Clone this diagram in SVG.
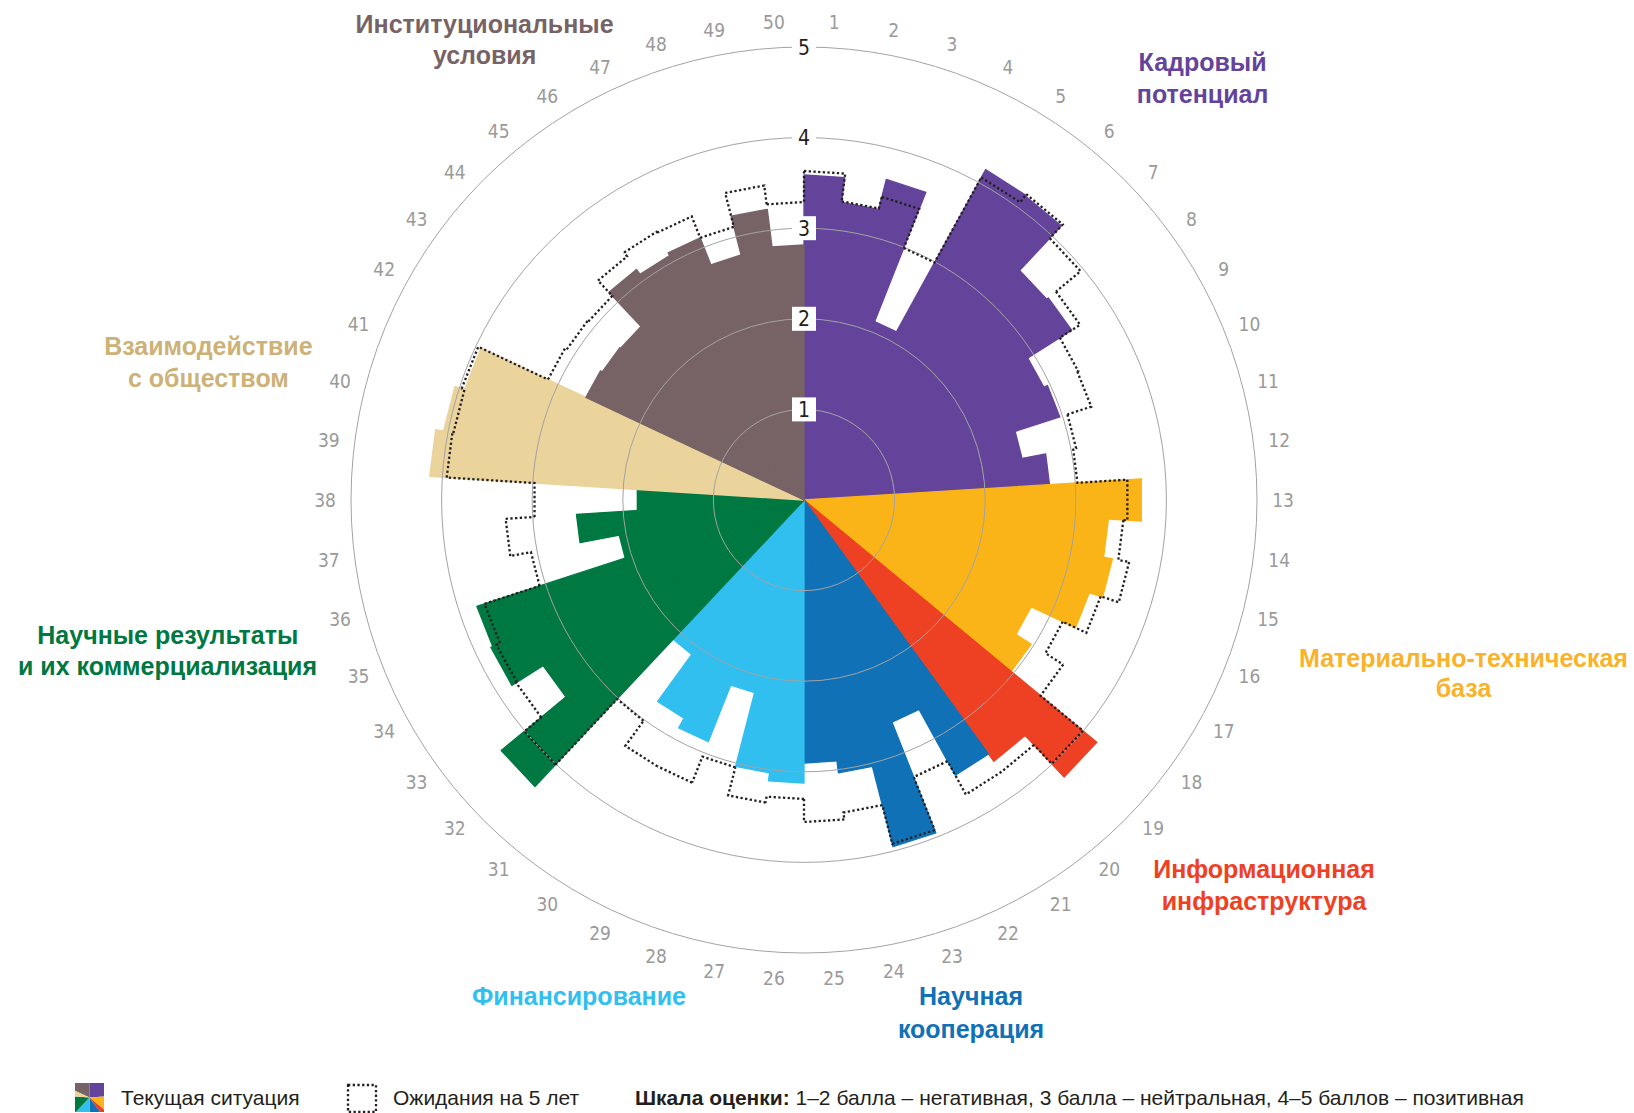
<svg xmlns="http://www.w3.org/2000/svg" width="1634" height="1113" viewBox="0 0 1634 1113">
<style>
.t{font-family:"Liberation Sans",Arial,sans-serif;font-weight:bold;font-size:25px;text-anchor:middle}
.n{font-family:"Liberation Sans Narrow","DejaVu Sans Condensed","Liberation Sans",sans-serif;font-size:19px;fill:#9a9a9a;text-anchor:middle}
.rl{font-family:"Liberation Sans Narrow","DejaVu Sans Condensed","Liberation Sans",sans-serif;font-size:21px;fill:#231f20;text-anchor:middle}
.ring{fill:none;stroke:#a3a3a3;stroke-width:1}
.exp path{fill:none;stroke:#231f20;stroke-width:2.3;stroke-dasharray:2.3 2.4}
.lg{font-family:"Liberation Sans",Arial,sans-serif;font-size:21px;fill:#231f20}
.bar path{stroke-width:1.3;stroke-linejoin:round}
</style>
<defs>
<clipPath id="ic"><rect x="75" y="1083" width="29" height="29"/></clipPath>
</defs>

<g id="bars" class="bar" transform="translate(804,500)">
<g id="kadry" fill="#64449b" stroke="#64449b">
<path transform="rotate(0)" d="M0 0V-325L40.73 -322.44Z"/>
<path transform="rotate(7.2)" d="M0 0V-300L37.6 -297.63Z"/>
<path transform="rotate(14.4)" d="M0 0V-331L41.49 -328.39Z"/>
<path transform="rotate(21.6)" d="M0 0V-192L24.06 -190.49Z"/>
<path transform="rotate(28.8)" d="M0 0V-377L47.25 -374.03Z"/>
<path transform="rotate(36)" d="M0 0V-376L47.13 -373.04Z"/>
<path transform="rotate(43.2)" d="M0 0V-315L39.48 -312.52Z"/>
<path transform="rotate(50.4)" d="M0 0V-317L39.73 -314.5Z"/>
<path transform="rotate(57.6)" d="M0 0V-265L33.21 -262.91Z"/>
<path transform="rotate(64.8)" d="M0 0V-269L33.71 -266.88Z"/>
<path transform="rotate(72)" d="M0 0V-222L27.82 -220.25Z"/>
<path transform="rotate(79.2)" d="M0 0V-246L30.83 -244.06Z"/>
</g>
<g id="baza" fill="#fbb417" stroke="#fbb417">
<path transform="rotate(86.4)" d="M0 0V-338L42.36 -335.33Z"/>
<path transform="rotate(93.6)" d="M0 0V-305L38.23 -302.6Z"/>
<path transform="rotate(100.8)" d="M0 0V-314L39.35 -311.52Z"/>
<path transform="rotate(108)" d="M0 0V-300L37.6 -297.63Z"/>
<path transform="rotate(115.2)" d="M0 0V-251L31.46 -249.02Z"/>
<path transform="rotate(122.4)" d="M0 0V-269L33.71 -266.88Z"/>
</g>
<g id="infra" fill="#ee4123" stroke="#ee4123">
<path transform="rotate(129.6)" d="M0 0V-380L47.63 -377Z"/>
<path transform="rotate(136.8)" d="M0 0V-323L40.48 -320.45Z"/>
</g>
<g id="koop" fill="#1071b6" stroke="#1071b6">
<path transform="rotate(144)" d="M0 0V-314L39.35 -311.52Z"/>
<path transform="rotate(151.2)" d="M0 0V-239L29.95 -237.12Z"/>
<path transform="rotate(158.4)" d="M0 0V-358L44.87 -355.18Z"/>
<path transform="rotate(165.6)" d="M0 0V-275L34.47 -272.83Z"/>
<path transform="rotate(172.8)" d="M0 0V-263L32.96 -260.93Z"/>
</g>
<g id="fin" fill="#31bfef" stroke="#31bfef">
<path transform="rotate(180)" d="M0 0V-283L35.47 -280.77Z"/>
<path transform="rotate(187.2)" d="M0 0V-275L34.47 -272.83Z"/>
<path transform="rotate(194.4)" d="M0 0V-199L24.94 -197.43Z"/>
<path transform="rotate(201.6)" d="M0 0V-260L32.59 -257.95Z"/>
<path transform="rotate(208.8)" d="M0 0V-249L31.21 -247.04Z"/>
<path transform="rotate(216)" d="M0 0V-191L23.94 -189.49Z"/>
</g>
<g id="nauka" fill="#007841" stroke="#007841">
<path transform="rotate(223.2)" d="M0 0V-393L49.26 -389.9Z"/>
<path transform="rotate(230.4)" d="M0 0V-309L38.73 -306.56Z"/>
<path transform="rotate(237.6)" d="M0 0V-346L43.37 -343.27Z"/>
<path transform="rotate(244.8)" d="M0 0V-344L43.11 -341.29Z"/>
<path transform="rotate(252)" d="M0 0V-188L23.56 -186.52Z"/>
<path transform="rotate(259.2)" d="M0 0V-228L28.58 -226.2Z"/>
<path transform="rotate(266.4)" d="M0 0V-167L20.93 -165.68Z"/>
</g>
<g id="obsh" fill="#ebd39c" stroke="#ebd39c">
<path transform="rotate(273.6)" d="M0 0V-375L47 -372.04Z"/>
<path transform="rotate(280.8)" d="M0 0V-367L46 -364.11Z"/>
<path transform="rotate(288)" d="M0 0V-357L44.74 -354.19Z"/>
</g>
<g id="inst" fill="#776365" stroke="#776365">
<path transform="rotate(295.2)" d="M0 0V-241L30.21 -239.1Z"/>
<path transform="rotate(302.4)" d="M0 0V-239L29.95 -237.12Z"/>
<path transform="rotate(309.6)" d="M0 0V-238L29.83 -236.12Z"/>
<path transform="rotate(316.8)" d="M0 0V-285L35.72 -282.75Z"/>
<path transform="rotate(324)" d="M0 0V-279L34.97 -276.8Z"/>
<path transform="rotate(331.2)" d="M0 0V-282L35.34 -279.78Z"/>
<path transform="rotate(338.4)" d="M0 0V-253L31.71 -251Z"/>
<path transform="rotate(345.6)" d="M0 0V-293L36.72 -290.69Z"/>
<path transform="rotate(352.8)" d="M0 0V-255L31.96 -252.99Z"/>
</g>
</g>

<g id="rings" class="ring">
<circle cx="804" cy="500" r="90.6"/>
<circle cx="804" cy="500" r="181.2"/>
<circle cx="804" cy="500" r="271.8"/>
<circle cx="804" cy="500" r="362.4"/>
<circle cx="804" cy="500" r="453"/>
</g>

<g id="expected" class="exp" transform="translate(804,500)">
<path transform="rotate(0)" d="M0 -329L41.23 -326.41L37.73 -298.63"/>
<path transform="rotate(7.2)" d="M0 -301L37.73 -298.63L39.23 -310.53"/>
<path transform="rotate(14.4)" d="M0 -313L39.23 -310.53L33.97 -268.86"/>
<path transform="rotate(21.6)" d="M0 -271L33.97 -268.86L46.12 -365.1"/>
<path transform="rotate(28.8)" d="M0 -368L46.12 -365.1L47.38 -375.02"/>
<path transform="rotate(36)" d="M0 -378L47.38 -375.02L44.99 -356.17"/>
<path transform="rotate(43.2)" d="M0 -359L44.99 -356.17L40.98 -324.42"/>
<path transform="rotate(50.4)" d="M0 -327L40.98 -324.42L37.98 -300.61"/>
<path transform="rotate(57.6)" d="M0 -303L37.98 -300.61L37.85 -299.62"/>
<path transform="rotate(64.8)" d="M0 -302L37.85 -299.62L34.72 -274.82"/>
<path transform="rotate(72)" d="M0 -277L34.72 -274.82L34.34 -271.84"/>
<path transform="rotate(79.2)" d="M0 -274L34.34 -271.84L40.61 -321.45"/>
<path transform="rotate(86.4)" d="M0 -324L40.61 -321.45L40.11 -317.48"/>
<path transform="rotate(93.6)" d="M0 -320L40.11 -317.48L41.49 -328.39"/>
<path transform="rotate(100.8)" d="M0 -331L41.49 -328.39L39.1 -309.54"/>
<path transform="rotate(108)" d="M0 -312L39.1 -309.54L35.85 -283.74"/>
<path transform="rotate(115.2)" d="M0 -286L35.85 -283.74L38.48 -304.58"/>
<path transform="rotate(122.4)" d="M0 -307L38.48 -304.58L45.37 -359.15"/>
<path transform="rotate(129.6)" d="M0 -362L45.37 -359.15L42.11 -333.35"/>
<path transform="rotate(136.8)" d="M0 -336L42.11 -333.35"/>
<path transform="rotate(144)" d="M0 -336L42.11 -333.35L37.35 -295.65"/>
<path transform="rotate(151.2)" d="M0 -298L37.35 -295.65L44.49 -352.2"/>
<path transform="rotate(158.4)" d="M0 -355L44.49 -352.2L39.48 -312.52"/>
<path transform="rotate(165.6)" d="M0 -315L39.48 -312.52L40.36 -319.46"/>
<path transform="rotate(172.8)" d="M0 -322L40.36 -319.46L37.47 -296.64"/>
<path transform="rotate(180)" d="M0 -299L37.47 -296.64L38.23 -302.6"/>
<path transform="rotate(187.2)" d="M0 -305L38.23 -302.6L34.59 -273.82"/>
<path transform="rotate(194.4)" d="M0 -276L34.59 -273.82L38.1 -301.6"/>
<path transform="rotate(201.6)" d="M0 -304L38.1 -301.6"/>
<path transform="rotate(208.8)" d="M0 -304L38.1 -301.6L34.22 -270.85"/>
<path transform="rotate(216)" d="M0 -273L34.22 -270.85L45.5 -360.14"/>
<path transform="rotate(223.2)" d="M0 -363L45.5 -360.14L42.74 -338.31"/>
<path transform="rotate(230.4)" d="M0 -341L42.74 -338.31L42.61 -337.32"/>
<path transform="rotate(237.6)" d="M0 -340L42.61 -337.32L42.11 -333.35"/>
<path transform="rotate(244.8)" d="M0 -336L42.11 -333.35L34.84 -275.81"/>
<path transform="rotate(252)" d="M0 -278L34.84 -275.81L37.47 -296.64"/>
<path transform="rotate(259.2)" d="M0 -299L37.47 -296.64L33.84 -267.87"/>
<path transform="rotate(266.4)" d="M0 -270L33.84 -267.87L44.87 -355.18"/>
<path transform="rotate(273.6)" d="M0 -358L44.87 -355.18L44.74 -354.19"/>
<path transform="rotate(280.8)" d="M0 -357L44.74 -354.19L45.12 -357.16"/>
<path transform="rotate(288)" d="M0 -360L45.12 -357.16L35.47 -280.77"/>
<path transform="rotate(295.2)" d="M0 -283L35.47 -280.77L35.22 -278.78"/>
<path transform="rotate(302.4)" d="M0 -281L35.22 -278.78L35.09 -277.79"/>
<path transform="rotate(309.6)" d="M0 -280L35.09 -277.79L37.73 -298.63"/>
<path transform="rotate(316.8)" d="M0 -301L37.73 -298.63L38.35 -303.59"/>
<path transform="rotate(324)" d="M0 -306L38.35 -303.59L38.23 -302.6"/>
<path transform="rotate(331.2)" d="M0 -305L38.23 -302.6L35.34 -279.78"/>
<path transform="rotate(338.4)" d="M0 -282L35.34 -279.78L39.73 -314.5"/>
<path transform="rotate(345.6)" d="M0 -317L39.73 -314.5L37.35 -295.65"/>
<path transform="rotate(352.8)" d="M0 -298L37.35 -295.65L41.23 -326.41"/>
</g>

<g id="ring-labels">
<rect x="792" y="397.4" width="24" height="24" fill="#fff"/>
<rect x="792" y="306.8" width="24" height="24" fill="#fff"/>
<rect x="792" y="216.2" width="24" height="24" fill="#fff"/>
<rect x="792" y="125.6" width="24" height="24" fill="#fff"/>
<rect x="792" y="35" width="24" height="24" fill="#fff"/>
<text class="rl" x="804" y="416.9">1</text>
<text class="rl" x="804" y="326.3">2</text>
<text class="rl" x="804" y="235.7">3</text>
<text class="rl" x="804" y="145.1">4</text>
<text class="rl" x="804" y="54.5">5</text>
</g>

<g id="sector-numbers" class="n">
<text x="834.1" y="28.9">1</text>
<text x="893.8" y="36.5">2</text>
<text x="952" y="51.4">3</text>
<text x="1008" y="73.6">4</text>
<text x="1060.7" y="102.6">5</text>
<text x="1109.3" y="137.9">6</text>
<text x="1153.2" y="179.1">7</text>
<text x="1191.5" y="225.5">8</text>
<text x="1223.8" y="276.2">9</text>
<text x="1249.4" y="330.7">10</text>
<text x="1268" y="387.9">11</text>
<text x="1279.2" y="447">12</text>
<text x="1283" y="507">13</text>
<text x="1279.2" y="567">14</text>
<text x="1268" y="626.1">15</text>
<text x="1249.4" y="683.3">16</text>
<text x="1223.8" y="737.8">17</text>
<text x="1191.5" y="788.6">18</text>
<text x="1153.2" y="834.9">19</text>
<text x="1109.3" y="876.1">20</text>
<text x="1060.7" y="911.4">21</text>
<text x="1008" y="940.4">22</text>
<text x="952" y="962.6">23</text>
<text x="893.8" y="977.5">24</text>
<text x="834.1" y="985.1">25</text>
<text x="773.9" y="985.1">26</text>
<text x="714.2" y="977.5">27</text>
<text x="656" y="962.6">28</text>
<text x="600" y="940.4">29</text>
<text x="547.3" y="911.4">30</text>
<text x="498.7" y="876.1">31</text>
<text x="454.8" y="834.9">32</text>
<text x="416.5" y="788.6">33</text>
<text x="384.2" y="737.8">34</text>
<text x="358.6" y="683.3">35</text>
<text x="340" y="626.1">36</text>
<text x="328.8" y="567">37</text>
<text x="325" y="507">38</text>
<text x="328.8" y="447">39</text>
<text x="340" y="387.9">40</text>
<text x="358.6" y="330.7">41</text>
<text x="384.2" y="276.2">42</text>
<text x="416.5" y="225.5">43</text>
<text x="454.8" y="179.1">44</text>
<text x="498.7" y="137.9">45</text>
<text x="547.3" y="102.6">46</text>
<text x="600" y="73.6">47</text>
<text x="656" y="51.4">48</text>
<text x="714.2" y="36.5">49</text>
<text x="773.9" y="28.9">50</text>
</g>

<g id="titles" class="t">
<text x="484.6" y="33" fill="#776365">Институциональные</text>
<text x="484.6" y="64.3" fill="#776365">условия</text>
<text x="1202.6" y="70.5" fill="#64449b">Кадровый</text>
<text x="1202.6" y="102.8" fill="#64449b">потенциал</text>
<text x="208.4" y="355" fill="#cdb278">Взаимодействие</text>
<text x="208.4" y="387.3" fill="#cdb278">с обществом</text>
<text x="167.8" y="643.6" fill="#007841">Научные результаты</text>
<text x="167.5" y="675" fill="#007841">и их коммерциализация</text>
<text x="1463.5" y="666.6" fill="#f9b22a">Материально-техническая</text>
<text x="1463.5" y="696.8" fill="#f9b22a">база</text>
<text x="1264" y="878" fill="#ee4123">Информационная</text>
<text x="1264" y="910.4" fill="#ee4123">инфраструктура</text>
<text x="971" y="1005" fill="#1071b6">Научная</text>
<text x="971" y="1037.5" fill="#1071b6">кооперация</text>
<text x="579" y="1005" fill="#31bfef">Финансирование</text>
</g>

<g id="legend">
<g clip-path="url(#ic)">
<polygon points="89.5,1097.5 62.36,1084.73 68.29,1076.29 89.5,1067.5" fill="#776365"/>
<polygon points="89.5,1097.5 89.5,1067.5 110.71,1076.29 119.44,1095.62" fill="#64449b"/>
<polygon points="89.5,1097.5 119.44,1095.62 112.62,1116.62" fill="#fbb417"/>
<polygon points="89.5,1097.5 112.62,1116.62 107.13,1121.77" fill="#ee4123"/>
<polygon points="89.5,1097.5 107.13,1121.77 89.5,1127.5" fill="#1071b6"/>
<polygon points="89.5,1097.5 89.5,1127.5 68.96,1119.37" fill="#31bfef"/>
<polygon points="89.5,1097.5 68.96,1119.37 59.56,1095.62" fill="#007841"/>
<polygon points="89.5,1097.5 59.56,1095.62 62.36,1084.73" fill="#ebd39c"/>
</g>
<text class="lg" x="121" y="1104.5">Текущая ситуация</text>
<rect x="348" y="1085" width="28" height="27" fill="none" stroke="#231f20" stroke-width="2.3" stroke-dasharray="2.3 2.4"/>
<text class="lg" x="393" y="1104.5">Ожидания на 5 лет</text>
<text class="lg" x="635" y="1104.5"><tspan font-weight="bold">Шкала оценки:</tspan> 1–2 балла – негативная, 3 балла – нейтральная, 4–5 баллов – позитивная</text>
</g>
</svg>
